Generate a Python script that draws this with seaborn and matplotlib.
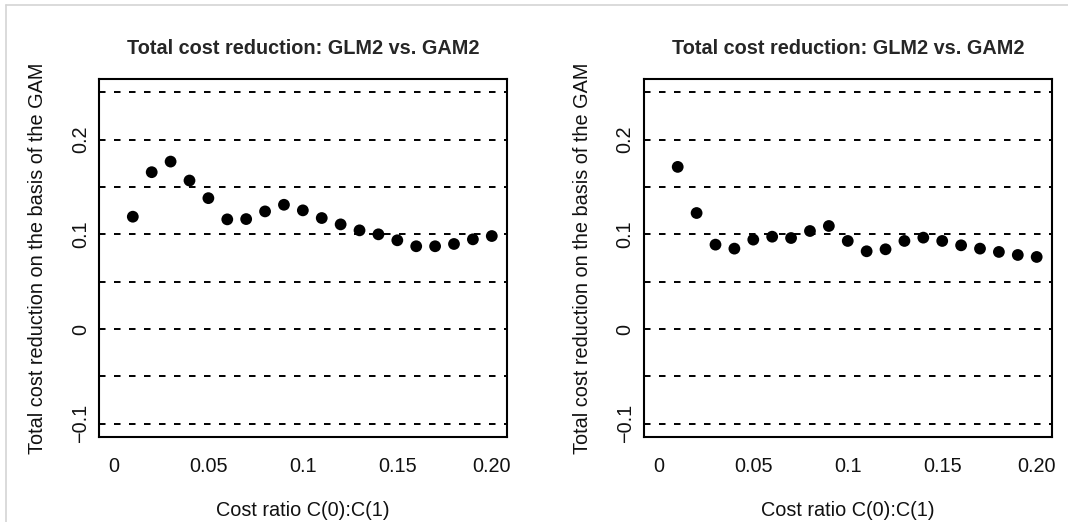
import matplotlib
matplotlib.use("Agg")
import matplotlib.pyplot as plt
from matplotlib.lines import Line2D
import seaborn as sns
import pandas as pd

# ---- data ----
cost_ratio = [0.01, 0.02, 0.03, 0.04, 0.05, 0.06, 0.07, 0.08, 0.09, 0.10,
              0.11, 0.12, 0.13, 0.14, 0.15, 0.16, 0.17, 0.18, 0.19, 0.20]
reduction_left = [0.1186, 0.1656, 0.1768, 0.1568, 0.1382, 0.1158, 0.1161, 0.1242,
                  0.1312, 0.1253, 0.1172, 0.1105, 0.1042, 0.1000, 0.0937, 0.0874,
                  0.0874, 0.0898, 0.0947, 0.0982]
reduction_right = [0.1712, 0.1225, 0.0891, 0.0849, 0.0944, 0.0975, 0.0961, 0.1035,
                   0.1088, 0.0930, 0.0821, 0.0842, 0.0930, 0.0965, 0.0930, 0.0884,
                   0.0849, 0.0814, 0.0782, 0.0761]
hlines = [-0.1, -0.05, 0.0, 0.05, 0.1, 0.15, 0.2, 0.25]
x_ticks = [0, 0.05, 0.1, 0.15, 0.20]
x_tick_labels = ["0", "0.05", "0.1", "0.15", "0.20"]
y_ticks = [-0.1, 0.0, 0.1, 0.2]
y_tick_labels = ["\u22120.1", "0", "0.1", "0.2"]
title = "Total cost reduction: GLM2 vs. GAM2"
xlabel = "Cost ratio C(0):C(1)"
ylabel = "Total cost reduction on the basis of the GAM"

sns.set_style("white")
plt.rcParams["font.family"] = ["Liberation Sans", "DejaVu Sans"]
plt.rcParams["lines.scale_dashes"] = False

W, H = 1068, 522
fig = plt.figure(figsize=(W / 100, H / 100), dpi=100)
fig.patch.set_facecolor("white")

FS = 14.3
positions = [(98.8, 79, 506.9, 437), (643.7, 79, 1051.8, 437)]
series = [reduction_left, reduction_right]

for (x0, y0, x1, y1), vals in zip(positions, series):
    ax = fig.add_axes([x0 / W, 1 - y1 / H, (x1 - x0) / W, (y1 - y0) / H])
    df = pd.DataFrame({"ratio": cost_ratio, "reduction": vals})
    for h in hlines:
        ax.axhline(h, color="black", lw=1.4, linestyle=(0, (4.7, 6.1)), zorder=1)
    sns.scatterplot(data=df, x="ratio", y="reduction", ax=ax, color="black",
                    s=72, edgecolor="none", zorder=3, legend=False)
    ax.set_xlim(-0.008, 0.208)
    ax.set_ylim(-0.114, 0.264)
    ax.set_xticks(x_ticks)
    ax.set_xticklabels(x_tick_labels, fontsize=FS)
    ax.set_yticks(y_ticks)
    ax.set_yticklabels(y_tick_labels, fontsize=FS, rotation=90, va="center")
    ax.tick_params(axis="both", direction="out", length=4.5, width=1.3,
                   color="black", labelcolor="#111111")
    ax.tick_params(axis="x", pad=10)
    ax.tick_params(axis="y", pad=2)
    for sp in ax.spines.values():
        sp.set_visible(True)
        sp.set_color("black")
        sp.set_linewidth(1.5)
    ax.set_title(title, fontsize=FS, fontweight="bold", pad=18)
    ax.set_xlabel(xlabel, fontsize=FS, labelpad=18, color="#111111")
    ax.set_ylabel(ylabel, fontsize=FS, labelpad=17, color="#111111")

# light grey screenshot border
fig.add_artist(Line2D([6 / W, 1], [1 - 5 / H, 1 - 5 / H], color="#d4d4d4", lw=1.2))
fig.add_artist(Line2D([6 / W, 6 / W], [0, 1 - 5 / H], color="#d4d4d4", lw=1.2))

fig.savefig("out.png", dpi=100, facecolor="white")
